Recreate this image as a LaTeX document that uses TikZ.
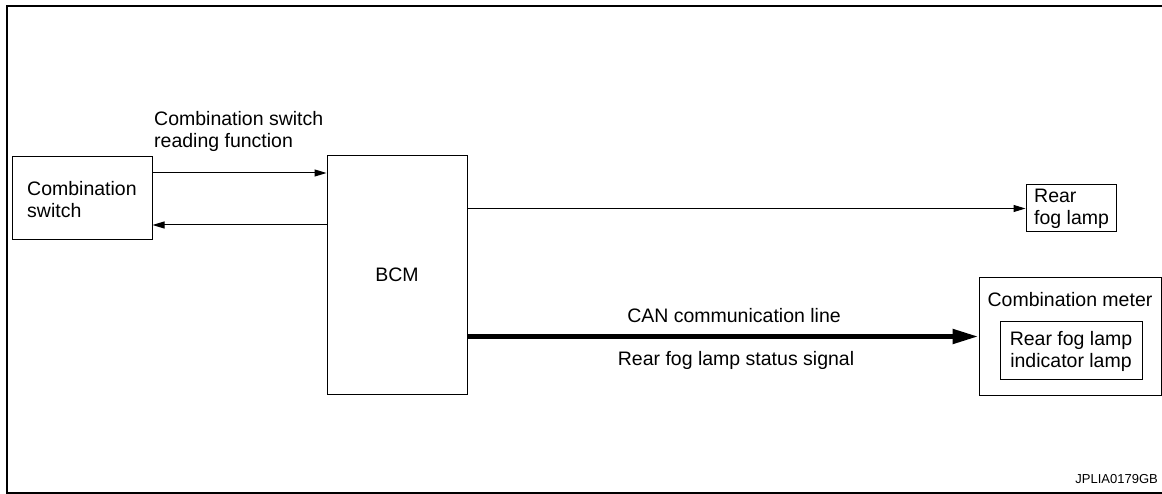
\documentclass[tikz,border=0pt]{standalone}
\usepackage{fontspec}
\setmainfont{Liberation Sans}
\usetikzlibrary{arrows.meta}
\begin{document}
\begin{tikzpicture}[x=1pt,y=-1pt,
  box/.style={draw, line width=1pt, inner sep=0pt},
  lbl/.style={font=\fontsize{19.5}{22}\selectfont, inner sep=0pt},
  small/.style={font=\fontsize{13}{14}\selectfont, inner sep=0pt},
  thinarrow/.style={line width=1pt, -{Triangle[length=12pt,width=7pt]}},
  bus/.style={line width=5pt, -{Triangle[length=26pt,width=14pt]}},
  frame/.style={line width=2.5pt}]
\useasboundingbox (0,0) rectangle (1162,494);
\draw[frame] (1164,6) -- (7,6) -- (7,493) -- (1164,493);

% boxes
\node[box, minimum width=140pt, minimum height=83pt] (sw) at (82,198.5) {};
\node[box, minimum width=140pt, minimum height=238pt] (bcm) at (397,275) {};
\node[box, minimum width=90pt, minimum height=47pt] (fog) at (1071,208.5) {};
\node[box, minimum width=182pt, minimum height=117pt] (meter) at (1070,336.5) {};
\node[box, minimum width=142pt, minimum height=57pt] (ind) at (1071,350.5) {};

% texts (multi-line nodes are placed by the baseline of their last line)
\node[lbl, align=left, anchor=base west] (swt) at (27,218) {Combination\\switch};
\node[lbl, align=left, anchor=base west] (readt) at (154,148) {Combination switch\\reading function};
\node[lbl, anchor=base] (bcmt) at (397,282) {BCM};
\node[lbl, align=left, anchor=base west] (fogt) at (1034,225) {Rear\\fog lamp};
\node[lbl, anchor=base] (metert) at (1070,307) {Combination meter};
\node[lbl, align=center, anchor=base] (indt) at (1071,367) {Rear fog lamp\\indicator lamp};
\node[lbl, anchor=base] (cant) at (734,323) {CAN communication line};
\node[lbl, anchor=base] (sigt) at (736,365) {Rear fog lamp status signal};
\node[small, anchor=base east] (code) at (1158,483) {JPLIA0179GB};

% connectors
\coordinate (a1) at ([yshift=25.5pt]sw.east);
\coordinate (a2) at ([yshift=-26.5pt]sw.east);
\draw[thinarrow] (a1) -- (a1 -| bcm.west);
\draw[thinarrow] (a2 -| bcm.west) -- (a2);
\draw[thinarrow] (bcm.east |- fog.west) -- (fog.west);
\draw[bus] (bcm.east |- meter.west) -- (meter.west);
\end{tikzpicture}
\end{document}
